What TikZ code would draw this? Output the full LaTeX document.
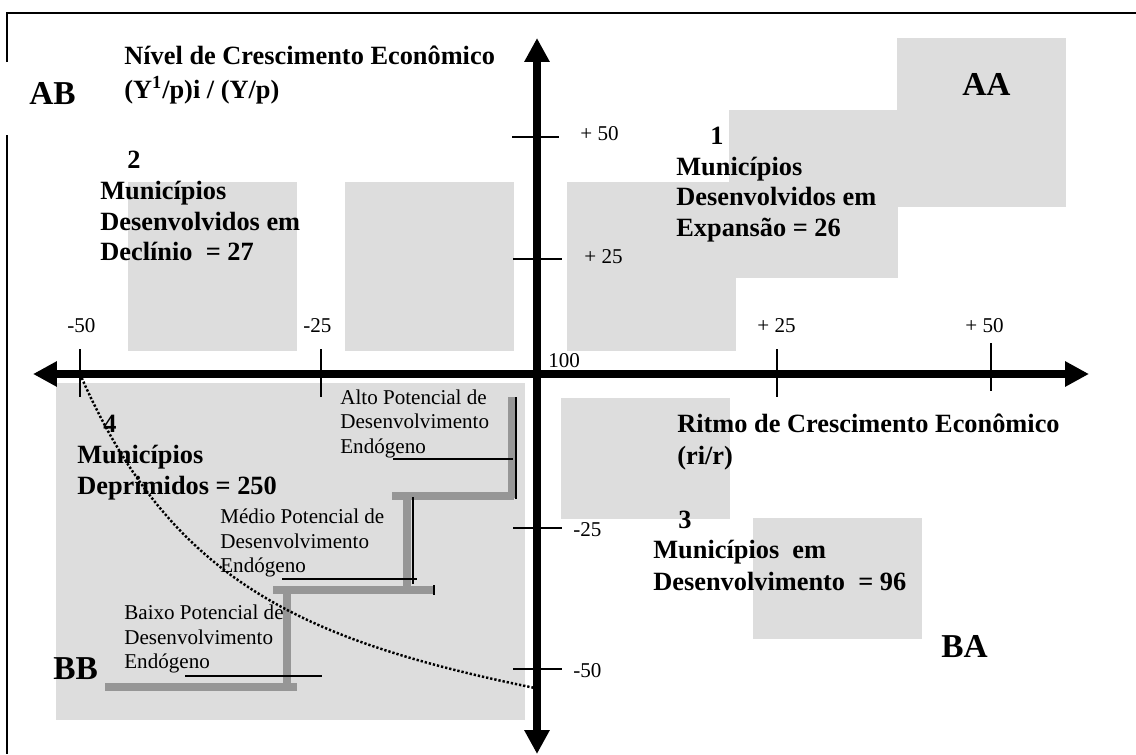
\documentclass[tikz,border=0pt]{standalone}
\usepackage{fontspec}
\setmainfont{Liberation Serif}
\usetikzlibrary{arrows.meta}
\definecolor{quadgray}{RGB}{221,221,221}
\definecolor{stairgray}{RGB}{150,150,150}
\tikzset{
  box/.style={fill=quadgray, draw=none},
  axisline/.style={line width=4pt,
    {Triangle[length=13.6pt,width=13.6pt]}-{Triangle[length=13.6pt,width=13.6pt]}},
  tickline/.style={line width=0.8pt},
  stairbar/.style={line width=4pt, stairgray},
  underline/.style={line width=0.8pt},
  small/.style={anchor=base west, inner sep=0pt, font=\fontsize{12}{14}\selectfont},
  big/.style={anchor=base west, inner sep=0pt, font=\fontsize{15}{17}\selectfont\bfseries},
  quadname/.style={anchor=base west, inner sep=0pt, font=\fontsize{19}{22}\selectfont\bfseries}
}

\begin{document}
\begin{tikzpicture}[x=0.02cm, y=-0.02cm]
\useasboundingbox (0,0) rectangle (1136,754);

% Frame
\draw[line width=1.2pt] (7,62) -- (7,13) -- (1136,13);
\draw[line width=1.2pt] (7,135) -- (7,754);

% Shaded squares
\fill[box] (128,182) rectangle (297,351);
\fill[box] (345,182) rectangle (514,351);
\fill[box] (567,182) rectangle (736,351);
\fill[box] (729,110) rectangle (898,278);
\fill[box] (897,38) rectangle (1066,207);
\fill[box] (561,398) rectangle (730,519);
\fill[box] (753,518) rectangle (922,639);
\fill[box] (56,383) rectangle (525,720);

% Stairs
\draw[stairbar] (512,397) -- (512,498);
\draw[stairbar] (392,496) -- (514,496);
\draw[underline] (516,397) -- (516,499);
\draw[stairbar] (407,494) -- (407,592);
\draw[stairbar] (273,590) -- (433,590);
\draw[underline] (413,497) -- (413,584);
\draw[underline] (434,585) -- (434,595);
\draw[stairbar] (287,588) -- (287,689);
\draw[stairbar] (105,687) -- (297,687);
\draw[underline] (393,459) -- (513,459);
\draw[underline] (282,579) -- (417,579);
\draw[underline] (185,676) -- (322,676);

% Curve
\draw[line width=1.4pt, dash pattern=on 1.3pt off 1.1pt] (80,374) .. controls (170,580) and (300,640) .. (535,688);

% Axes
\draw[axisline] (537,754) -- (537,38);
\draw[axisline] (33,374) -- (1089,374);

% Ticks
\draw[tickline] (80,349) -- (80,397);
\draw[tickline] (321,349) -- (321,397);
\draw[tickline] (777,349) -- (777,397);
\draw[tickline] (991,343) -- (991,391);
\draw[tickline] (512,137) -- (559,137);
\draw[tickline] (513,259) -- (562,259);
\draw[tickline] (513,528) -- (562,528);
\draw[tickline] (513,669) -- (562,669);

\node[small] (xm50) at (67,332) {-50};
\node[small] (xm25) at (303,332) {-25};
\node[small] (xp25) at (757,332) {+ 25};
\node[small] (xp50) at (965,332) {+ 50};
\node[small] (yp50) at (580,140) {+ 50};
\node[small] (yp25) at (584,263) {+ 25};
\node[small] (ym25) at (573,536) {-25};
\node[small] (ym50) at (573,677) {-50};
\node[small] (orig) at (548,367) {100};

% Quadrant names
\node[quadname] (nameAB) at (29,104) {AB};
\node[quadname] (nameAA) at (962,95) {AA};
\node[quadname] (nameBA) at (941,657) {BA};
\node[quadname] (nameBB) at (53,679) {BB};

% Axis titles
\node[big] (ytitleA) at (124,64) {Nível de Crescimento Econômico};
\node[big] (ytitleB) at (124,98) {(Y\textsuperscript{1}/p)i / (Y/p)};
\node[big] (xtitleA) at (677,432) {Ritmo de Crescimento Econômico};
\node[big] (xtitleB) at (677,464) {(ri/r)};

% Groups
\node[big] (numOne) at (710,144) {1};
\node[big] (oneA) at (676,175) {Municípios};
\node[big] (oneB) at (676,205) {Desenvolvidos em};
\node[big] (oneC) at (676,236) {Expansão = 26};

\node[big] (numTwo) at (127,168) {2};
\node[big] (twoA) at (100,199) {Municípios};
\node[big] (twoB) at (100,230) {Desenvolvidos em};
\node[big] (twoC) at (100,260) {Declínio\ \ = 27};

\node[big] (numThree) at (678,528) {3};
\node[big] (threeA) at (653,558) {Municípios\ \ em};
\node[big] (threeB) at (653,590) {Desenvolvimento\ \ = 96};

\node[big] (numFour) at (103,432) {4};
\node[big] (fourA) at (77,463) {Municípios};
\node[big] (fourB) at (77,494) {Deprimidos = 250};

% Potential labels
\node[small] (altoA) at (340,404) {Alto Potencial de};
\node[small] (altoB) at (340,428) {Desenvolvimento};
\node[small] (altoC) at (340,453) {Endógeno};
\node[small] (medA) at (220,523) {Médio Potencial de};
\node[small] (medB) at (220,548) {Desenvolvimento};
\node[small] (medC) at (220,572) {Endógeno};
\node[small] (baixoA) at (124,619) {Baixo Potencial de};
\node[small] (baixoB) at (124,644) {Desenvolvimento};
\node[small] (baixoC) at (124,668) {Endógeno};

\end{tikzpicture}
\end{document}
